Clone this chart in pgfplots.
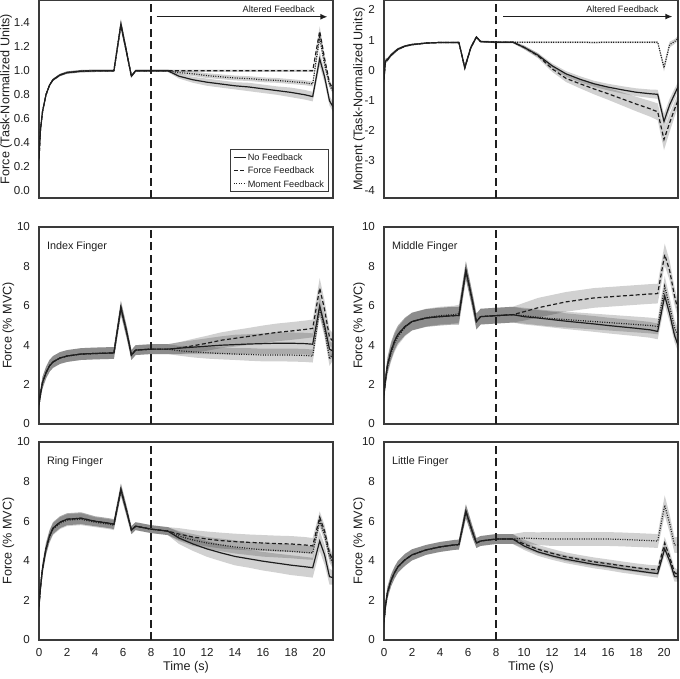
\documentclass[border=0pt]{standalone}
\usepackage{fontspec}
\setmainfont{Liberation Sans}
\setsansfont{Liberation Sans}
\usepackage{pgfplots}
\usepackage{pgfplotstable}
\pgfplotsset{compat=1.18}
\usepgfplotslibrary{fillbetween}
\usetikzlibrary{arrows.meta}

\definecolor{ink}{HTML}{1E1E1E}
\definecolor{frame}{HTML}{3A3A3A}

\pgfplotsset{
  panel/.style={scale only axis, width=147pt, xmin=0, xmax=21, clip=true,
    axis line style={frame, line width=0.75pt}, major tick length=0pt, tick style={draw=none},
    xtick={0,2,...,20},
    tick label style={font=\fontsize{5.8}{6.5}\selectfont, text=ink},
    label style={font=\fontsize{6.3}{7}\selectfont, text=ink},
    yticklabel style={xshift=-1pt},
    xticklabel style={yshift=-0.8pt},
    /pgf/number format/assume math mode=true,
    legend image code/.code={\draw[##1] (0pt,0pt) -- (6pt,0pt);},
  },
  nox/.style={xticklabels={}},
  solidl/.style={ink, line width=0.6pt},
  dashl/.style={ink, line width=0.6pt, dash pattern=on 2pt off 1.2pt},
  dotl/.style={ink, line width=0.6pt, dash pattern=on 0.5pt off 0.7pt},
}

\newcommand{\band}[3]{%
  \addplot[draw=none, name path=U#2, forget plot] table[x=t, y expr=\thisrow{#2}+\thisrow{#3}] {#1};
  \addplot[draw=none, name path=L#2, forget plot] table[x=t, y expr=\thisrow{#2}-\thisrow{#3}] {#1};
  \addplot[fill=black, fill opacity=0.18, draw=none, forget plot] fill between[of=U#2 and L#2];
}
\newcommand{\threelines}[1]{%
  \addplot[solidl] table[x=t, y=a] {#1};
  \addplot[dashl] table[x=t, y=b] {#1};
  \addplot[dotl] table[x=t, y=c] {#1};
}
\newcommand{\startline}{\draw[ink, line width=0.8pt, dash pattern=on 4pt off 2.2pt] ({axis cs:8,0}|-{rel axis cs:0,0}) -- ({axis cs:8,0}|-{rel axis cs:0,1});}
\newcommand{\flabel}[1]{\node[anchor=west, inner sep=0pt, font=\fontsize{5.4}{6}\selectfont, text=ink] at (axis description cs:0.026,0.9) {#1};}

\pgfplotstableread{
t a ea b eb c ec
0 0.27 0.02 0.27 0.02 0.27 0.02
0.1 0.50 0.02 0.50 0.02 0.50 0.02
0.25 0.66 0.02 0.66 0.02 0.66 0.02
0.5 0.80 0.015 0.80 0.015 0.80 0.015
0.75 0.88 0.01 0.88 0.01 0.88 0.01
1 0.925 0.01 0.925 0.01 0.925 0.01
1.5 0.965 0.01 0.965 0.01 0.965 0.01
2 0.985 0.01 0.985 0.01 0.985 0.01
3 0.997 0.01 0.997 0.01 0.997 0.01
4 1.0 0.01 1.0 0.01 1.0 0.01
5 1.0 0.01 1.0 0.01 1.0 0.01
5.35 1.0 0.01 1.0 0.01 1.0 0.01
5.85 1.39 0.04 1.38 0.04 1.39 0.04
6.3 1.13 0.03 1.13 0.03 1.13 0.03
6.6 0.955 0.01 0.955 0.01 0.955 0.01
6.9 1.0 0.01 1.0 0.01 1.0 0.01
8 1.0 0.01 1.0 0.01 1.0 0.01
9.2 1.0 0.01 1.0 0.01 1.0 0.01
10 0.955 0.02 1.0 0.01 0.985 0.015
11 0.925 0.025 1.0 0.01 0.975 0.02
12 0.905 0.03 1.0 0.01 0.96 0.02
13 0.89 0.03 1.0 0.01 0.95 0.02
14 0.875 0.03 1.0 0.01 0.94 0.02
15 0.865 0.035 1.0 0.01 0.935 0.02
16 0.85 0.035 1.0 0.01 0.925 0.02
17 0.835 0.035 1.0 0.01 0.92 0.02
18 0.82 0.04 1.0 0.01 0.91 0.02
19 0.80 0.04 1.0 0.01 0.90 0.02
19.55 0.785 0.04 1.0 0.01 0.89 0.02
20.05 1.10 0.06 1.33 0.04 1.28 0.04
20.4 0.95 0.05 1.10 0.03 1.05 0.03
20.75 0.75 0.04 0.90 0.02 0.88 0.02
21 0.70 0.04 0.85 0.02 0.83 0.02
}\tA

\pgfplotstableread{
t a ea b eb c ec
0 -0.30 0.1 -0.30 0.1 -0.30 0.1
0.1 0.30 0.08 0.30 0.08 0.30 0.08
0.25 0.35 0.06 0.35 0.06 0.35 0.06
0.5 0.50 0.05 0.50 0.05 0.50 0.05
0.75 0.60 0.05 0.60 0.05 0.60 0.05
1 0.70 0.04 0.70 0.04 0.70 0.04
1.5 0.80 0.03 0.80 0.03 0.80 0.03
2 0.85 0.03 0.85 0.03 0.85 0.03
3 0.90 0.02 0.90 0.02 0.90 0.02
4 0.92 0.02 0.92 0.02 0.92 0.02
5 0.92 0.02 0.92 0.02 0.92 0.02
5.35 0.92 0.03 0.92 0.03 0.92 0.03
5.77 0.08 0.1 0.08 0.1 0.08 0.1
6.2 0.75 0.06 0.75 0.06 0.75 0.06
6.6 1.10 0.04 1.10 0.04 1.10 0.04
6.9 0.95 0.03 0.95 0.03 0.95 0.03
8 0.93 0.03 0.93 0.03 0.93 0.03
9.2 0.93 0.03 0.93 0.03 0.93 0.03
10 0.76 0.06 0.76 0.06 0.93 0.03
11 0.50 0.07 0.48 0.08 0.93 0.03
12 0.15 0.08 0.05 0.10 0.93 0.03
13 -0.12 0.09 -0.27 0.12 0.93 0.03
14 -0.30 0.10 -0.45 0.15 0.93 0.03
15 -0.45 0.10 -0.62 0.18 0.92 0.03
16 -0.56 0.11 -0.78 0.20 0.93 0.03
17 -0.65 0.12 -0.95 0.22 0.93 0.03
18 -0.73 0.13 -1.12 0.24 0.93 0.03
19 -0.78 0.14 -1.28 0.26 0.93 0.03
19.55 -0.80 0.15 -1.38 0.28 0.93 0.04
20.0 -1.70 0.25 -2.30 0.35 0.08 0.12
20.4 -1.15 0.20 -1.75 0.30 0.85 0.10
20.75 -0.80 0.18 -1.30 0.25 0.95 0.08
21 -0.55 0.15 -1.00 0.22 1.05 0.08
}\tB

\pgfplotstableread{
t a ea b eb c ec
0 1.0 0.2 1.0 0.2 1.0 0.2
0.1 1.5 0.25 1.5 0.25 1.5 0.25
0.25 2.1 0.3 2.1 0.3 2.1 0.3
0.5 2.6 0.3 2.6 0.3 2.6 0.3
0.75 2.95 0.3 2.95 0.3 2.95 0.3
1 3.15 0.3 3.15 0.3 3.15 0.3
1.5 3.35 0.3 3.35 0.3 3.35 0.3
2 3.45 0.3 3.45 0.3 3.45 0.3
3 3.55 0.3 3.55 0.3 3.55 0.3
4 3.58 0.3 3.58 0.3 3.58 0.3
5 3.6 0.3 3.6 0.3 3.6 0.3
5.35 3.6 0.3 3.6 0.3 3.6 0.3
5.85 5.9 0.35 5.9 0.35 5.9 0.35
6.3 4.55 0.3 4.55 0.3 4.55 0.3
6.6 3.5 0.25 3.5 0.25 3.5 0.25
6.9 3.75 0.25 3.75 0.25 3.75 0.25
8 3.8 0.25 3.8 0.25 3.8 0.25
9.2 3.8 0.25 3.8 0.25 3.8 0.25
10 3.85 0.3 3.85 0.3 3.72 0.25
11 3.9 0.35 3.97 0.35 3.66 0.28
12 3.95 0.4 4.1 0.38 3.62 0.3
13 4.0 0.45 4.25 0.4 3.58 0.3
14 4.03 0.5 4.35 0.42 3.55 0.3
15 4.06 0.5 4.45 0.43 3.53 0.32
16 4.08 0.52 4.55 0.45 3.5 0.32
17 4.1 0.55 4.65 0.45 3.5 0.32
18 4.1 0.55 4.72 0.45 3.5 0.33
19 4.08 0.55 4.8 0.45 3.48 0.33
19.55 4.05 0.55 4.85 0.45 3.45 0.33
20.05 6.0 0.5 6.9 0.5 5.9 0.45
20.4 5.0 0.45 5.8 0.45 4.8 0.4
20.75 3.8 0.4 4.4 0.4 3.3 0.35
21 3.7 0.4 4.2 0.4 3.6 0.35
}\tC

\pgfplotstableread{
t a ea b eb c ec
0 1.5 0.3 1.5 0.3 1.5 0.3
0.1 2.2 0.35 2.2 0.35 2.2 0.35
0.25 3.0 0.4 3.0 0.4 2.9 0.4
0.5 3.7 0.45 3.7 0.45 3.6 0.45
0.75 4.2 0.45 4.2 0.45 4.1 0.45
1 4.55 0.45 4.55 0.45 4.45 0.45
1.5 4.95 0.45 4.95 0.45 4.9 0.45
2 5.2 0.45 5.2 0.45 5.2 0.45
3 5.38 0.45 5.38 0.45 5.4 0.45
4 5.45 0.45 5.45 0.45 5.5 0.45
5 5.5 0.45 5.5 0.45 5.55 0.45
5.35 5.5 0.45 5.5 0.45 5.6 0.45
5.85 7.8 0.45 7.8 0.45 7.8 0.45
6.3 6.3 0.4 6.3 0.4 6.3 0.4
6.6 5.2 0.4 5.2 0.4 5.2 0.4
6.9 5.45 0.4 5.45 0.4 5.45 0.4
8 5.5 0.4 5.5 0.4 5.5 0.4
9.2 5.55 0.4 5.55 0.4 5.55 0.4
10 5.45 0.4 5.7 0.45 5.5 0.4
11 5.38 0.4 5.9 0.5 5.42 0.4
12 5.3 0.4 6.05 0.5 5.35 0.4
13 5.22 0.4 6.2 0.5 5.3 0.4
14 5.15 0.4 6.3 0.5 5.25 0.4
15 5.08 0.4 6.4 0.5 5.2 0.4
16 5.0 0.4 6.45 0.5 5.15 0.4
17 4.93 0.4 6.5 0.5 5.1 0.4
18 4.86 0.4 6.55 0.5 5.05 0.4
19 4.78 0.4 6.6 0.5 5.0 0.4
19.55 4.7 0.4 6.62 0.5 4.95 0.4
20.05 6.5 0.45 8.6 0.55 7.0 0.5
20.4 5.6 0.4 7.8 0.5 6.0 0.45
20.75 4.5 0.35 6.5 0.45 4.9 0.4
21 4.0 0.3 5.8 0.4 4.5 0.35
}\tD

\pgfplotstableread{
t a ea b eb c ec
0 1.7 0.25 1.7 0.25 1.7 0.25
0.1 2.6 0.3 2.6 0.3 2.6 0.3
0.25 3.6 0.3 3.6 0.3 3.6 0.3
0.5 4.6 0.3 4.6 0.3 4.6 0.3
0.75 5.25 0.3 5.25 0.3 5.2 0.3
1 5.65 0.3 5.65 0.3 5.6 0.3
1.5 5.95 0.3 5.95 0.3 5.9 0.3
2 6.1 0.3 6.1 0.3 6.05 0.3
3 6.15 0.3 6.15 0.3 6.1 0.3
4 6.0 0.25 6.0 0.25 5.95 0.25
5 5.9 0.25 5.9 0.25 5.85 0.25
5.35 5.85 0.25 5.85 0.25 5.8 0.25
5.85 7.6 0.3 7.6 0.3 7.6 0.3
6.3 6.4 0.25 6.4 0.25 6.4 0.25
6.6 5.55 0.2 5.55 0.2 5.55 0.2
6.9 5.75 0.2 5.75 0.2 5.75 0.2
8 5.6 0.2 5.6 0.2 5.6 0.2
9.2 5.5 0.2 5.5 0.2 5.5 0.2
10 5.15 0.3 5.35 0.3 5.25 0.25
11 4.85 0.35 5.2 0.35 5.05 0.3
12 4.6 0.4 5.1 0.38 4.9 0.3
13 4.4 0.42 5.02 0.4 4.8 0.32
14 4.22 0.45 4.97 0.4 4.7 0.33
15 4.1 0.45 4.93 0.4 4.62 0.33
16 3.98 0.47 4.9 0.4 4.56 0.35
17 3.88 0.48 4.87 0.4 4.52 0.35
18 3.78 0.5 4.85 0.4 4.48 0.35
19 3.7 0.5 4.8 0.4 4.42 0.35
19.55 3.65 0.5 4.75 0.4 4.4 0.35
20.05 5.0 0.5 6.2 0.3 6.0 0.3
20.4 4.3 0.5 5.5 0.3 5.3 0.3
20.75 3.2 0.4 4.4 0.3 4.2 0.3
21 3.15 0.35 4.0 0.3 3.9 0.3
}\tE

\pgfplotstableread{
t a ea b eb c ec
0 0.9 0.25 0.9 0.25 0.9 0.25
0.1 1.7 0.3 1.7 0.3 1.7 0.3
0.25 2.4 0.3 2.4 0.3 2.4 0.3
0.5 3.0 0.3 3.0 0.3 3.0 0.3
0.75 3.4 0.3 3.4 0.3 3.4 0.3
1 3.7 0.3 3.7 0.3 3.7 0.3
1.5 4.05 0.3 4.05 0.3 4.05 0.3
2 4.3 0.28 4.3 0.28 4.3 0.28
3 4.55 0.25 4.55 0.25 4.55 0.25
4 4.7 0.25 4.7 0.25 4.7 0.25
5 4.8 0.25 4.8 0.25 4.8 0.25
5.35 4.82 0.25 4.82 0.25 4.82 0.25
5.85 6.5 0.35 6.5 0.35 6.5 0.35
6.3 5.5 0.3 5.5 0.3 5.5 0.3
6.6 4.9 0.25 4.9 0.25 4.9 0.25
6.9 5.0 0.25 5.0 0.25 5.0 0.25
8 5.1 0.25 5.1 0.25 5.1 0.25
9.2 5.1 0.25 5.1 0.25 5.1 0.25
10 4.75 0.2 4.85 0.22 5.15 0.3
11 4.45 0.2 4.58 0.22 5.12 0.32
12 4.25 0.2 4.38 0.22 5.1 0.35
13 4.08 0.2 4.2 0.22 5.1 0.35
14 3.95 0.2 4.07 0.22 5.1 0.35
15 3.82 0.2 3.95 0.22 5.1 0.35
16 3.72 0.2 3.85 0.22 5.1 0.35
17 3.6 0.2 3.75 0.22 5.08 0.35
18 3.5 0.2 3.65 0.22 5.05 0.35
19 3.4 0.2 3.57 0.22 5.02 0.35
19.55 3.35 0.2 3.55 0.22 5.0 0.35
20.05 4.6 0.3 4.9 0.3 6.8 0.5
20.4 4.0 0.3 4.2 0.3 5.9 0.45
20.75 3.2 0.25 3.4 0.25 4.8 0.4
21 3.2 0.25 3.3 0.25 4.8 0.4
}\tF

\begin{document}
\begin{tikzpicture}

% Top left
\begin{axis}[panel, nox, at={(19.5pt,0pt)}, anchor=north west, height=99pt,
  ymin=-0.06, ymax=1.59, ytick={0,0.2,0.4,0.6,0.8,1.0,1.2,1.4},
  yticklabels={0.0,0.2,0.4,0.6,0.8,1.0,1.2,1.4},
  ylabel={Force (Task-Normalized Units)},
  ylabel style={at={(axis description cs:-0.112,0.5)}, anchor=center},
  legend cell align=left,
  legend style={at={(axis description cs:0.986,0.03)}, anchor=south east,
    draw=frame, line width=0.5pt, font=\fontsize{4.6}{5.4}\selectfont, text=ink,
    inner sep=1.6pt, row sep=2pt,
    nodes={inner sep=0.6pt, text height=3.4pt, text depth=0pt}},
]
\band{\tA}{a}{ea}\band{\tA}{b}{eb}\band{\tA}{c}{ec}
\threelines{\tA}
\legend{No Feedback, Force Feedback, Moment Feedback}
\startline
\draw[ink, line width=0.6pt, -{Latex[length=3.5pt,width=3pt]}] (axis cs:8.4,1.45) -- (axis cs:20.6,1.45);
\node[anchor=south east, font=\fontsize{4.6}{5.4}\selectfont, text=ink, inner sep=0.5pt] at (axis cs:19.8,1.47) {Altered Feedback};
\end{axis}

% Top right
\begin{axis}[panel, nox, at={(192pt,0pt)}, anchor=north west, height=99pt,
  ymin=-4.24, ymax=2.33, ytick={-4,-3,-2,-1,0,1,2}, yticklabels={-4,-3,-2,-1,0,1,2},
  ylabel={Moment (Task-Normalized Units)},
  ylabel style={at={(axis description cs:-0.085,0.5)}, anchor=center},
]
\band{\tB}{a}{ea}\band{\tB}{b}{eb}\band{\tB}{c}{ec}
\threelines{\tB}
\startline
\draw[ink, line width=0.6pt, -{Latex[length=3.5pt,width=3pt]}] (axis cs:8.5,1.78) -- (axis cs:20.6,1.78);
\node[anchor=south east, font=\fontsize{4.6}{5.4}\selectfont, text=ink, inner sep=0.5pt] at (axis cs:19.7,1.85) {Altered Feedback};
\end{axis}

% Middle left
\begin{axis}[panel, nox, at={(19.5pt,-113.5pt)}, anchor=north west, height=98.5pt,
  ymin=0, ymax=10, ytick={0,2,...,10},
  ylabel={Force (\% MVC)},
  ylabel style={at={(axis description cs:-0.104,0.5)}, anchor=center},
]
\band{\tC}{a}{ea}\band{\tC}{b}{eb}\band{\tC}{c}{ec}
\threelines{\tC}
\startline
\flabel{Index Finger}
\end{axis}

% Middle right
\begin{axis}[panel, nox, at={(192pt,-113.5pt)}, anchor=north west, height=98.5pt,
  ymin=0, ymax=10, ytick={0,2,...,10},
  ylabel={Force (\% MVC)},
  ylabel style={at={(axis description cs:-0.085,0.5)}, anchor=center},
]
\band{\tD}{a}{ea}\band{\tD}{b}{eb}\band{\tD}{c}{ec}
\threelines{\tD}
\startline
\flabel{Middle Finger}
\end{axis}

% Bottom left
\begin{axis}[panel, at={(19.5pt,-221pt)}, anchor=north west, height=99pt,
  ymin=0, ymax=10, ytick={0,2,...,10},
  xlabel={Time (s)},
  xlabel style={at={(axis description cs:0.5,-0.136)}, anchor=center},
  ylabel={Force (\% MVC)},
  ylabel style={at={(axis description cs:-0.104,0.5)}, anchor=center},
]
\band{\tE}{a}{ea}\band{\tE}{b}{eb}\band{\tE}{c}{ec}
\threelines{\tE}
\startline
\flabel{Ring Finger}
\end{axis}

% Bottom right
\begin{axis}[panel, at={(192pt,-221pt)}, anchor=north west, height=99pt,
  ymin=0, ymax=10, ytick={0,2,...,10},
  xlabel={Time (s)},
  xlabel style={at={(axis description cs:0.5,-0.136)}, anchor=center},
  ylabel={Force (\% MVC)},
  ylabel style={at={(axis description cs:-0.085,0.5)}, anchor=center},
]
\band{\tF}{a}{ea}\band{\tF}{b}{eb}\band{\tF}{c}{ec}
\threelines{\tF}
\startline
\flabel{Little Finger}
\end{axis}
\pgfresetboundingbox
\useasboundingbox (0,0) rectangle (340pt,-339.5pt);
\end{tikzpicture}
\end{document}
